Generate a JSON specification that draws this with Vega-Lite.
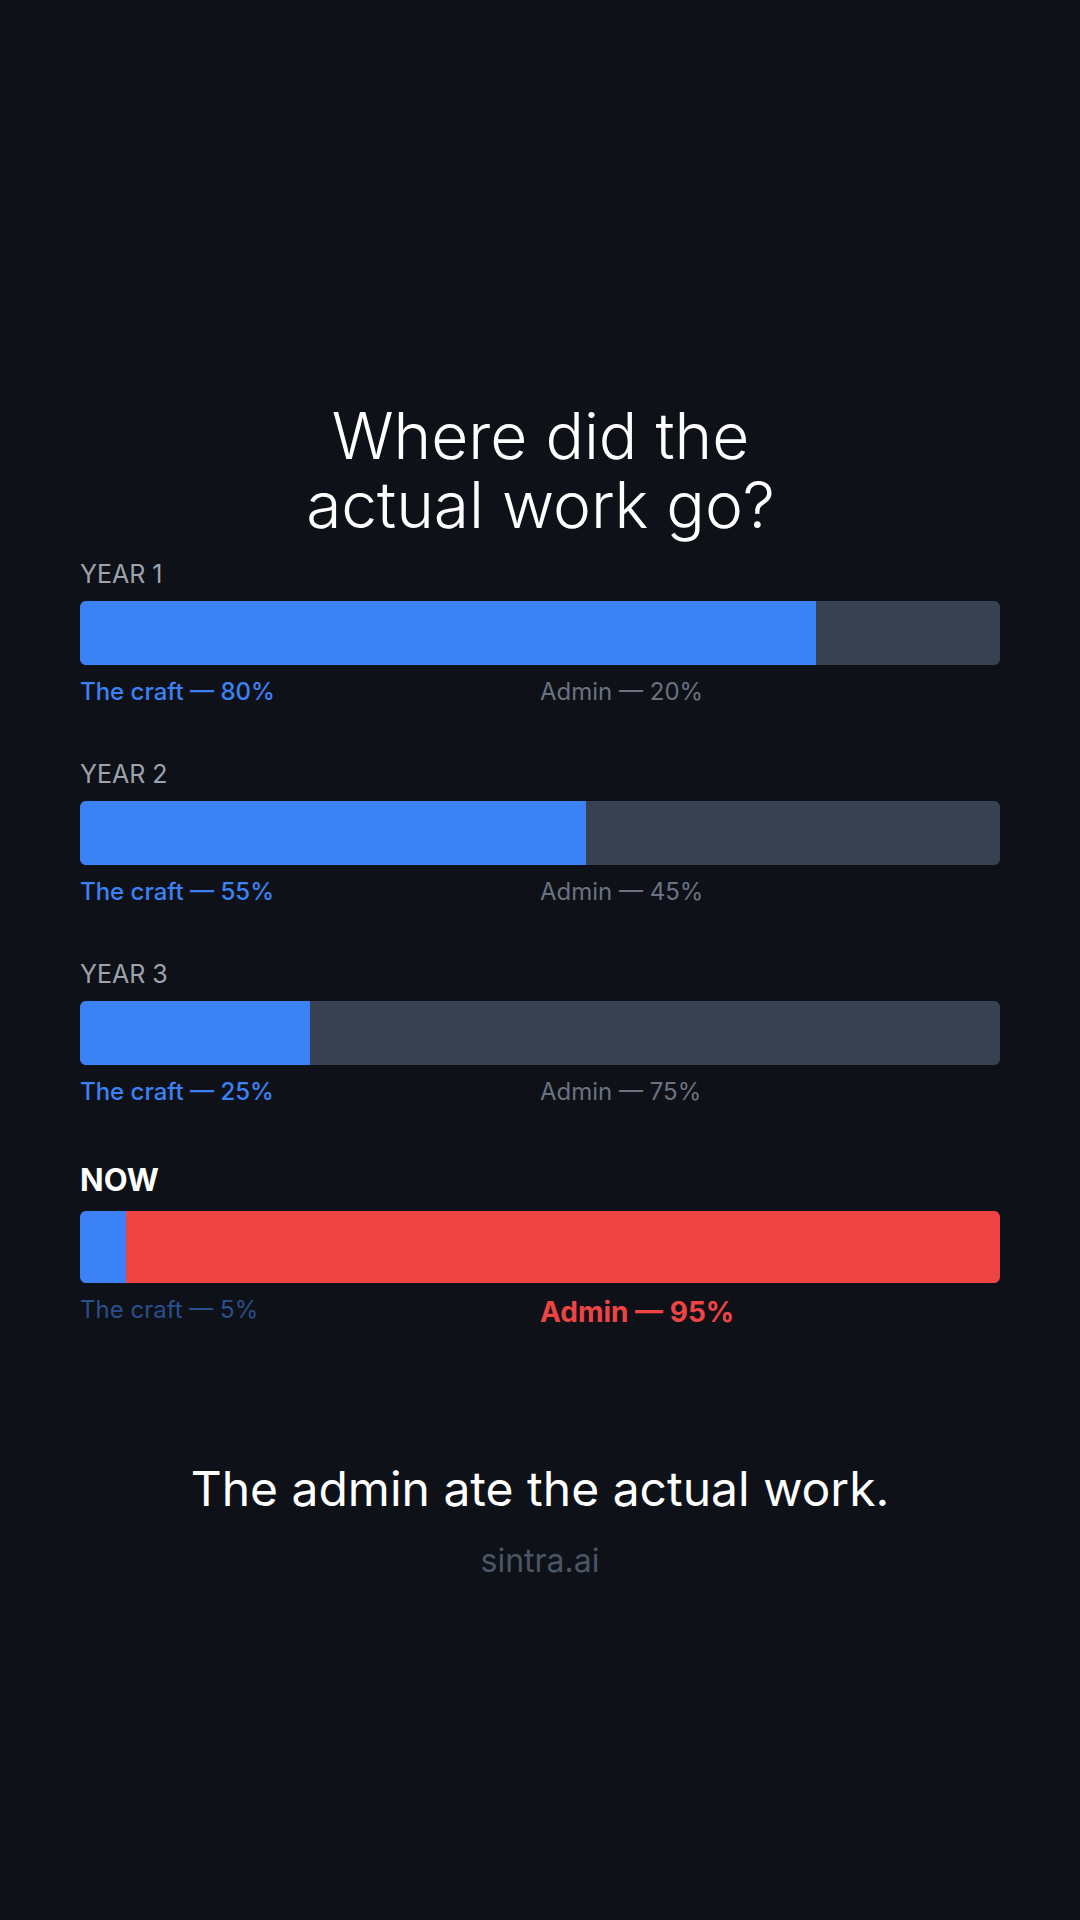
{
  "$schema": "https://vega.github.io/schema/vega-lite/v6.json",
  "width": 920,
  "height": 800,
  "autosize": {"type": "none"},
  "padding": {"top": 533, "bottom": 587, "left": 80, "right": 80},
  "background": "#0e1118",
  "config": {"view": {"stroke": null}, "font": "Inter", "text": {"font": "Inter"}},
  "title": {
    "text": "The admin ate the actual work.",
    "subtitle": "sintra.ai",
    "orient": "bottom",
    "anchor": "middle",
    "font": "Inter",
    "fontSize": 48,
    "fontWeight": 400,
    "color": "#ffffff",
    "subtitleFont": "Inter",
    "subtitleFontSize": 32,
    "subtitleFontWeight": 400,
    "subtitleColor": "#4b5563",
    "offset": 135,
    "subtitlePadding": 31
  },
  "data": {
    "values": [
      {"period": "YEAR 1", "craft": 80, "admin": 20, "craft_label": "The craft — 80%", "admin_label": "Admin — 20%"},
      {"period": "YEAR 2", "craft": 55, "admin": 45, "craft_label": "The craft — 55%", "admin_label": "Admin — 45%"},
      {"period": "YEAR 3", "craft": 25, "admin": 75, "craft_label": "The craft — 25%", "admin_label": "Admin — 75%"},
      {"period": "NOW", "craft": 5, "admin": 95, "craft_label": "The craft — 5%", "admin_label": "Admin — 95%"}
    ]
  },
  "encoding": {
    "y": {
      "field": "period",
      "type": "nominal",
      "sort": null,
      "scale": {"domain": ["YEAR 1", "YEAR 2", "YEAR 3", "NOW"], "paddingInner": 0, "paddingOuter": 0},
      "axis": null
    }
  },
  "layer": [
    {
      "transform": [{"filter": "datum.period !== 'NOW'"}],
      "mark": {"type": "bar", "color": "#3b82f6", "height": 64, "cornerRadiusTopLeft": 6, "cornerRadiusBottomLeft": 6},
      "encoding": {
        "x": {
          "field": "craft",
          "type": "quantitative",
          "scale": {"domain": [0, 100], "nice": false},
          "axis": {
            "orient": "top",
            "title": ["Where did the", "actual work go?"],
            "titleFont": "Inter",
            "titleFontSize": 64,
            "titleFontWeight": 300,
            "titleColor": "#ffffff",
            "titleLineHeight": 69,
            "titleBaseline": "alphabetic",
            "titlePadding": 6,
            "labels": false,
            "ticks": false,
            "domain": false,
            "grid": false
          }
        }
      }
    },
    {
      "transform": [{"filter": "datum.period !== 'NOW'"}],
      "mark": {"type": "bar", "color": "#374151", "height": 64, "cornerRadiusTopRight": 6, "cornerRadiusBottomRight": 6},
      "encoding": {
        "x": {"field": "craft", "type": "quantitative"},
        "x2": {"datum": 100}
      }
    },
    {
      "transform": [{"filter": "datum.period === 'NOW'"}],
      "mark": {"type": "bar", "color": "#3b82f6", "height": 72, "yOffset": 14, "cornerRadiusTopLeft": 6, "cornerRadiusBottomLeft": 6},
      "encoding": {
        "x": {"field": "craft", "type": "quantitative"}
      }
    },
    {
      "transform": [{"filter": "datum.period === 'NOW'"}],
      "mark": {"type": "bar", "color": "#ef4444", "height": 72, "yOffset": 14, "cornerRadiusTopRight": 6, "cornerRadiusBottomRight": 6},
      "encoding": {
        "x": {"field": "craft", "type": "quantitative"},
        "x2": {"datum": 100}
      }
    },
    {
      "transform": [{"filter": "datum.period !== 'NOW'"}],
      "mark": {"type": "text", "align": "left", "baseline": "alphabetic", "dy": -50, "fontSize": 25, "fontWeight": 400, "color": "#9ca3af"},
      "encoding": {
        "x": {"datum": 0, "type": "quantitative"},
        "text": {"field": "period"}
      }
    },
    {
      "transform": [{"filter": "datum.period === 'NOW'"}],
      "mark": {"type": "text", "align": "left", "baseline": "alphabetic", "dy": -42, "fontSize": 31, "fontWeight": 700, "color": "#ffffff"},
      "encoding": {
        "x": {"datum": 0, "type": "quantitative"},
        "text": {"field": "period"}
      }
    },
    {
      "transform": [{"filter": "datum.period !== 'NOW'"}],
      "mark": {"type": "text", "align": "left", "baseline": "alphabetic", "dy": 67, "fontSize": 24, "fontWeight": 500, "color": "#3b82f6"},
      "encoding": {
        "x": {"datum": 0, "type": "quantitative"},
        "text": {"field": "craft_label"}
      }
    },
    {
      "transform": [{"filter": "datum.period !== 'NOW'"}],
      "mark": {"type": "text", "align": "left", "baseline": "alphabetic", "dy": 67, "fontSize": 24, "fontWeight": 400, "color": "#6b7280"},
      "encoding": {
        "x": {"datum": 50, "type": "quantitative"},
        "text": {"field": "admin_label"}
      }
    },
    {
      "transform": [{"filter": "datum.period === 'NOW'"}],
      "mark": {"type": "text", "align": "left", "baseline": "alphabetic", "dy": 85, "fontSize": 24, "fontWeight": 400, "color": "#2a4f8c"},
      "encoding": {
        "x": {"datum": 0, "type": "quantitative"},
        "text": {"field": "craft_label"}
      }
    },
    {
      "transform": [{"filter": "datum.period === 'NOW'"}],
      "mark": {"type": "text", "align": "left", "baseline": "alphabetic", "dy": 89, "fontSize": 28, "fontWeight": 700, "color": "#ef4444"},
      "encoding": {
        "x": {"datum": 50, "type": "quantitative"},
        "text": {"field": "admin_label"}
      }
    }
  ]
}
